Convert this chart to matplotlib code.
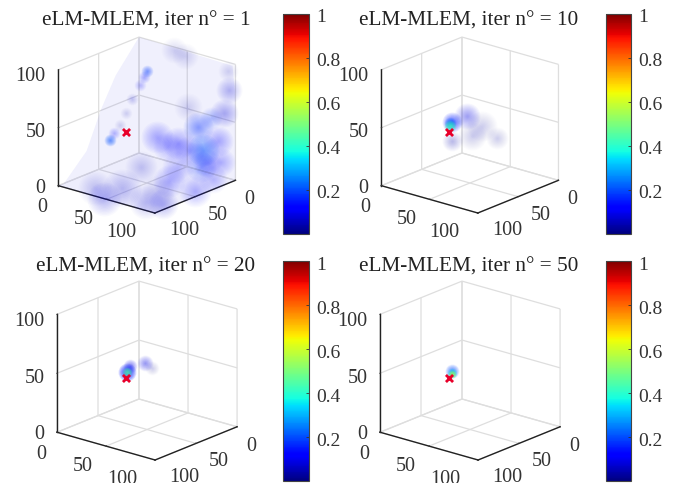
import numpy as np
import matplotlib
matplotlib.use("Agg")
import matplotlib.pyplot as plt
from matplotlib.cm import ScalarMappable
from matplotlib.colors import Normalize
from matplotlib.transforms import Affine2D
from mpl_toolkits.mplot3d import proj3d
from mpl_toolkits.mplot3d.art3d import Poly3DCollection

plt.rcParams['font.family'] = ['Liberation Serif', 'DejaVu Serif']

W, H = 683, 483
titles = ["eLM-MLEM, iter n° = 1", "eLM-MLEM, iter n° = 10",
          "eLM-MLEM, iter n° = 20", "eLM-MLEM, iter n° = 50"]
ticks3d = [0, 50, 100]
cbar_ticks = [0.2, 0.4, 0.6, 0.8, 1]
cbar_labels = ["0.2", "0.4", "0.6", "0.8", "1"]

# source position (a, b, z)
source = (34, 56.5, 42)

# blobs: a, b, z, value, radius (px), opacity
blobs_1 = [
    (66, 0, 18, .2, 16, .45), (61, 0, 37, .17, 15, .35), (64, 0, 3, .17, 15, .25),
    (19, 0, 18, .12, 16, .22), (40, 0, 18, .12, 16, .22), (82, 0, 30, .12, 15, .22),
    (30, 0, 12, .12, 15, .16), (52, 0, 14, .12, 15, .2), (85, 0, 12, .12, 14, .18),
    (93, 0, 76, .1, 13, .18), (92, 0, 92, .1, 10, .08), (88, 0, 55, .1, 14, .22),
    (51, 0, 52, .08, 14, .1), (36, 0, 97, .08, 13, .1), (75, 0, 48, .17, 11, .2),
    (70, 0, 8, .12, 14, .2), (48, 0, 95, .08, 13, .08),
    (47, 100, 0, .1, 17, .18), (43, 72, 0, .1, 19, .17), (78, 84, 0, .1, 17, .15),
    (60, 35, 0, .12, 16, .2), (92, 40, 0, .12, 16, .2), (45, 6, 0, .12, 16, .16),
    (23, 25, 0, .1, 16, .13), (85, 10, 0, .12, 14, .16), (92, 80, 0, .1, 15, .18),
    (25, 85, 0, .1, 17, .14), (68, 58, 0, .1, 16, .09),
    (12, 50, 28, .2, 6, .5), (16, 50, 35, .13, 6, .2), (22, 50, 43, .1, 6, .1),
    (28, 50, 55, .1, 6, .1), (35, 50, 69, .1, 6, .12), (43, 50, 83, .12, 6, .16),
    (47, 50, 91, .14, 6, .22), (50, 50, 97, .18, 6, .4),
]
blobs_2 = [
    (47, 50, 57, .09, 13, .28), (63, 50, 52, .05, 15, .14), (78, 50, 45, .05, 11, .13),
    (52, 50, 41, .05, 14, .12), (31, 50, 32, .06, 10, .2), (31, 50, 48, .15, 10, .6),
    (29, 50, 47, .22, 6, .7), (29, 50, 44, .42, 6, .95),
]
blobs_3 = [
    (48, 50, 56, .1, 8, .3), (55, 50, 53, .05, 7, .12), (33, 50, 50, .1, 7, .4),
    (30, 50, 44, .15, 9, .9), (30, 50, 44, .45, 5, .95),
]
blobs_4 = [
    (32, 50, 45, .2, 7, .6), (32, 50, 44, .35, 5, .8), (32, 50, 43, .55, 4, .95),
]
all_blobs = [blobs_1, blobs_2, blobs_3, blobs_4]

# faint haze walls of the first iteration, as (a, b, z) outlines
haze_left = [(0, 93, 0), (0, 65, 20), (0, 47, 51), (0, 29, 75), (0, 0, 100), (0, 0, 0)]
haze_right = [(0, 0, 0), (0, 0, 100), (97, 0, 98), (100, 0, 70), (100, 0, 0)]
haze_floor = [(0, 0, 0), (100, 0, 0), (100, 100, 0), (0, 100, 0)]

# target pixels for each panel: back-floor corner, front-floor corner
targets = [((139, 153), (153, 213)), ((462, 153), (476, 213)),
           ((139, 399), (153, 460)), ((462, 399), (476, 460))]
cbar_boxes = [(283, 14, 26, 220), (606, 14, 25, 220),
              (283, 261, 26, 220), (606, 261, 25, 220)]
title_centers = [(146, 21), (469, 21), (146, 267), (469, 267)]

# extra pixel shifts of the tick labels, per tick (right, down)
shift_a = [(-7, 5), (-14, 3), (-24, 3)]
shift_b = [(3, 3), (12, 2), (18, 1)]
shift_z = [(12, 2), (12, 4), (12, 6)]


def to_px(ax, pt):
    x, y, _ = proj3d.proj_transform(pt[1], pt[0], pt[2], ax.get_proj())
    return ax.transData.transform((x, y))


def fit(ax, back, front):
    size = 300.0
    ax.set_position([.2, .2, size / W, size / H])
    ax.apply_aspect()
    p0, p1 = to_px(ax, (0, 0, 0)), to_px(ax, (100, 100, 0))
    k = abs(front[1] - back[1]) / abs(p1[1] - p0[1])
    size *= k
    ax.set_position([.2, .2, size / W, size / H])
    ax.apply_aspect()
    p0 = to_px(ax, (0, 0, 0))
    dx = back[0] - p0[0]
    dy = (H - back[1]) - p0[1]
    ax.set_position([.2 + dx / W, .2 + dy / H, size / W, size / H])
    ax.apply_aspect()


def soft(ax, a, b, z, val, r, op):
    col = plt.cm.jet(val)
    layers = 12
    for i in range(layers):
        rr = r * (1 - i / layers) * 0.72  # px -> pt
        ax.scatter([b], [a], [z], s=(2 * rr) ** 2, color=col, alpha=op / layers * 1.5,
                   linewidths=0, depthshade=False)


def shift_labels(ax, axis, shifts, ha):
    orig = axis.get_major_ticks

    def patched(numticks=None):
        ticks = orig(numticks)
        for t in ticks:
            loc = int(t.get_loc())
            sx, sy = shifts[ticks3d.index(loc)] if loc in ticks3d else (0, 0)
            t.label1.set_transform(ax.transData + Affine2D().translate(sx, -sy))
            t.label1.set_ha(ha)
            t.label1.set_va('center')
        return ticks
    axis.get_major_ticks = patched


fig = plt.figure(figsize=(W / 100, H / 100), dpi=100)
for i in range(4):
    ax = fig.add_subplot(111, projection='3d', proj_type='ortho')
    ax.view_init(elev=19.8, azim=39.9)
    ax.set_box_aspect((1, 1, .98))
    ax.set_xlim(0, 100); ax.set_ylim(0, 100); ax.set_zlim(0, 100)
    ax.patch.set_alpha(0)
    ax.computed_zorder = False
    for axis in (ax.xaxis, ax.yaxis, ax.zaxis):
        axis.set_ticks(ticks3d)
        axis.set_pane_color((1, 1, 1, 0))
        axis.pane.set_edgecolor((1, 1, 1, 0))
        axis.line.set_color('#222222')
        axis.line.set_linewidth(1.0)
        axis._axinfo['grid'].update(color='#dedede', linewidth=0.9)
        axis._axinfo['tick'].update(inward_factor=0.0, outward_factor=0.05)
        axis.set_tick_params(labelsize=14.5, colors='#333333', width=0.7)
    ax.tick_params(axis='x', pad=1)
    ax.tick_params(axis='y', pad=1)
    ax.tick_params(axis='z', pad=3)
    ax.zaxis.set_ticks_position('lower')
    fit(ax, *targets[i])
    shift_labels(ax, ax.xaxis, shift_b, 'center')
    shift_labels(ax, ax.yaxis, shift_a, 'center')
    shift_labels(ax, ax.zaxis, shift_z, 'right')

    if i == 0:
        for poly, op in ((haze_left, .08), (haze_right, .08), (haze_floor, .09)):
            verts = [[(p[1], p[0], p[2]) for p in poly]]
            ax.add_collection3d(Poly3DCollection(verts, facecolor=(.25, .25, .9, op),
                                                 edgecolor='none'))
    for bl in all_blobs[i]:
        soft(ax, *bl)
    ax.scatter([source[1]], [source[0]], [source[2]], marker='x', s=26, color='#e8002a',
               linewidths=2, depthshade=False, zorder=20)

    cx, cy = title_centers[i]
    fig.text(cx / W, 1 - cy / H, titles[i], ha='center', va='center', fontsize=15.3,
             color='#222222')

    x, y, w, h = cbar_boxes[i]
    cax = fig.add_axes([x / W, 1 - (y + h) / H, w / W, h / H])
    cb = fig.colorbar(ScalarMappable(Normalize(0, 1), 'jet'), cax=cax, ticks=cbar_ticks)
    cb.ax.set_yticklabels(cbar_labels)
    cb.ax.tick_params(direction='in', length=2.5, width=0.6, labelsize=14, pad=5,
                      colors='#333333')
    for lab in cb.ax.get_yticklabels():
        lab.set_transform(lab.get_transform() + Affine2D().translate(0, -2))
    cb.outline.set_edgecolor('#444444')
    cb.outline.set_linewidth(0.8)

fig.savefig('out.png', dpi=100)
